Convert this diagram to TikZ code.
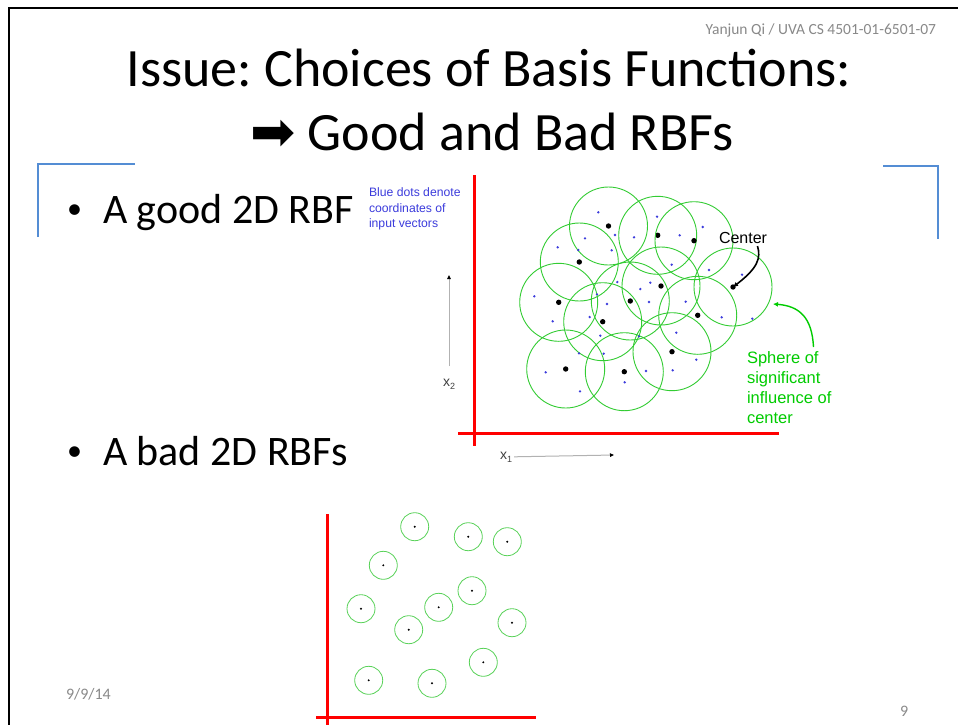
\documentclass[tikz,border=0pt]{standalone}
\usepackage{fontspec}
\setmainfont{Carlito}
\newfontfamily\arrowfont{DejaVu Sans}
\newfontfamily\figfont{Liberation Sans}
\usetikzlibrary{calc, positioning, arrows.meta}
\frenchspacing

\begin{document}
\begin{tikzpicture}[x=1pt,y=-1pt,
    axis/.style={axisred, line width=3pt},
    rbf/.style={rbfgreen, line width=0.9pt},
    smallrbf/.style={rbflight, line width=0.8pt},
    bracket/.style={bracketblue, line width=2.6pt},
    coordarrow/.style={gray!60, line width=1pt, -{Triangle[length=4pt,width=3.5pt,black]}},
    plain/.style={inner sep=0pt, outer sep=0pt}]
  \definecolor{axisred}{RGB}{255,0,0}
  \definecolor{rbfgreen}{RGB}{51,204,51}
  \definecolor{rbflight}{RGB}{90,210,90}
  \definecolor{labelgreen}{RGB}{0,204,0}
  \definecolor{dotblue}{RGB}{60,60,220}
  \definecolor{bracketblue}{RGB}{84,141,212}
  \definecolor{footgray}{RGB}{137,137,137}
  \def\rbig{39}
  \def\rsmall{14}
  \useasboundingbox (0,0) rectangle (958,724);
  \fill[white] (0,0) rectangle (958,724);
  \draw[line width=2pt] (9,730) -- (9,8) -- (965,8);
  \node[plain, anchor=base east, text=footgray, font=\fontsize{15.5}{18}\selectfont] (header) at (936,34) {Yanjun Qi / UVA CS 4501-01-6501-07};
  \node[plain, anchor=base, font=\fontsize{54}{60}\selectfont] (title) at (489,86) {Issue: Choices of Basis Functions:};
  \node[plain, anchor=base, font=\fontsize{54}{60}\selectfont] (subtitle) at (492,150) {{\arrowfont\fontsize{54}{60}\selectfont ➡}\ Good and Bad RBFs};
  \draw[bracket] (38,237) -- (38,164) -- (135,164);
  \draw[bracket] (883,166) -- (938,166) -- (938,239);
  \node[plain, anchor=base west, font=\fontsize{30}{36}\selectfont] (goodbullet) at (67,218) {•};
  \node[plain, anchor=base west, font=\fontsize{42}{48}\selectfont] (goodlabel) at (103,223) {A good 2D RBF};
  \node[plain, anchor=base west, font=\fontsize{30}{36}\selectfont] (badbullet) at (67,460) {•};
  \node[plain, anchor=base west, font=\fontsize{42}{48}\selectfont] (badlabel) at (103,465) {A bad 2D RBFs};
  \node[plain, anchor=north west, align=left, text=dotblue, font=\figfont\fontsize{12.2}{15.5}\selectfont] (bluenote) at (369,188) {Blue dots denote\\coordinates of\\input vectors};
  \draw[axis] (474,175) -- (474,446);
  \draw[axis] (458,433) -- (779,433);
  \foreach \cx/\cy in {608.5/226, 657.7/235.3, 694/240.7, 579.3/262, 661/286, 558.7/302.3, 630.3/301, 602.7/321.7, 697.7/315.3, 565.7/369, 624.3/371.7, 672/351.7, 733/287} {
    \draw[rbf] (\cx,\cy) circle (\rbig);
    \fill[black] (\cx,\cy) circle (2.7);
  }
  \foreach \cx/\cy in {598.3/212.3, 615/235, 585/238.3, 634/237.3, 611.7/250.3, 557.7/247.3, 578.3/250, 657/216.7, 679.7/235.3, 702.7/227, 671.7/264.7, 709/270, 617.3/282, 640.3/289, 650.3/282.7, 534.3/296.3, 597/294.3, 607/304, 649/302, 685.7/301.7, 552.7/321.3, 589.7/317, 600.3/335.7, 639/336.3, 676.3/332.7, 696.3/359.7, 579/353.3, 603.7/353.7, 545.7/372.3, 646/371, 672.7/370.3, 580/391.3, 624.7/382.3, 742/274.7, 721.7/317.3, 752.3/318.7} {
    \fill[dotblue] (\cx,\cy) circle (1.3);
  }
  \node[plain, anchor=base west, font=\figfont\fontsize{16}{18}\selectfont] (centerlabel) at (719,243) {Center};
  \coordinate (centertail) at (757.5,246);
  \coordinate (centertip) at (733,287);
  \draw[line width=1.6pt, -{Latex[length=5pt,width=5pt]}] (centertail) .. controls (761,258) and (758,268) .. (centertip);
  \node[plain, anchor=north west, align=left, text=labelgreen, font=\figfont\fontsize{16.5}{20}\selectfont] (spherelabel) at (747,352) {Sphere of\\significant\\influence of\\center};
  \coordinate (spheretail) at (813.5,347);
  \coordinate (spheretip) at (773,304);
  \draw[labelgreen, line width=1.4pt, -{Latex[length=5pt,width=5pt]}] (spheretail) .. controls (812,318) and (800,306) .. (spheretip);
  \node[plain, anchor=base, text=black!75, font=\figfont\fontsize{14}{16}\selectfont] (xtwolabel) at (449,386) {x\raisebox{-3pt}{\fontsize{9}{10}\selectfont 2}};
  \coordinate (xtwotip) at (449,275);
  \draw[coordarrow] (449,366) -- (xtwotip);
  \node[plain, anchor=base, text=black!75, font=\figfont\fontsize{14}{16}\selectfont] (xonelabel) at (506,459) {x\raisebox{-3pt}{\fontsize{9}{10}\selectfont 1}};
  \coordinate (xonetip) at (614,455);
  \draw[coordarrow] (xonelabel.east) ++(2,0) -- (xonetip);
  \draw[axis] (327,514) -- (327,730);
  \draw[axis] (316,717.5) -- (536,717.5);
  \foreach \cx/\cy in {414.7/526.7, 468.3/536.7, 507.3/541.7, 383.3/565.3, 472/590.7, 361/608.7, 438.7/607.3, 512/622.7, 408.7/629.7, 483.3/662.3, 368.7/680.3, 432/683.3} {
    \draw[smallrbf] (\cx,\cy) circle (\rsmall);
    \fill[black] (\cx,\cy) circle (1.1);
  }
  \node[plain, anchor=base west, text=footgray, font=\fontsize{16}{18}\selectfont] (datelabel) at (66,699) {9/9/14};
  \node[plain, anchor=base west, text=footgray, font=\fontsize{16}{18}\selectfont] (pagelabel) at (900,716) {9};
\end{tikzpicture}
\end{document}
